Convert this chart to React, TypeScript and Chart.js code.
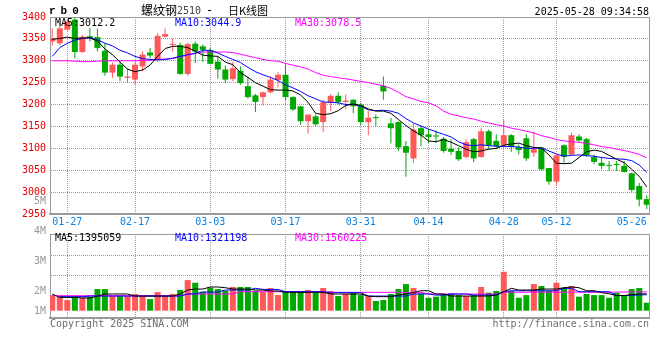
import React, { useEffect, useRef } from 'react';
import { Chart, registerables } from 'chart.js';

Chart.register(...registerables);

// ---------- data ----------
const dates = [
  '01-23','01-24','01-27','02-05','02-06','02-07','02-10','02-11','02-12','02-13',
  '02-14','02-17','02-18','02-19','02-20','02-21','02-24','02-25','02-26','02-27',
  '02-28','03-03','03-04','03-05','03-06','03-07','03-10','03-11','03-12','03-13',
  '03-14','03-17','03-18','03-19','03-20','03-21','03-24','03-25','03-26','03-27',
  '03-28','03-31','04-01','04-02','04-03','04-07','04-08','04-09','04-10','04-11',
  '04-14','04-15','04-16','04-17','04-18','04-21','04-22','04-23','04-24','04-25',
  '04-28','04-29','04-30','05-06','05-07','05-08','05-09','05-12','05-13','05-14',
  '05-15','05-16','05-19','05-20','05-21','05-22','05-23','05-26','05-27','05-28',
];

const opens = [
  3344,3340,3371,3394,3320,3356,3354,3323,3273,3291,
  3261,3257,3287,3319,3302,3355,3336,3336,3270,3339,
  3333,3324,3298,3280,3258,3277,3242,3221,3217,3228,
  3256,3268,3217,3196,3162,3173,3160,3204,3220,3206,
  3211,3200,3160,3171,3243,3157,3160,3105,3077,3146,
  3132,3129,3122,3099,3094,3080,3121,3080,3139,3117,
  3107,3130,3103,3123,3090,3102,3055,3024,3107,3086,
  3127,3121,3080,3067,3062,3064,3060,3043,3014,2984,
];
const highs = [
  3374,3389,3396,3399,3359,3375,3373,3340,3296,3298,
  3283,3298,3321,3329,3363,3374,3351,3342,3342,3344,
  3337,3329,3310,3289,3298,3287,3264,3224,3230,3264,
  3274,3292,3219,3197,3177,3177,3211,3224,3228,3223,
  3212,3204,3185,3177,3264,3170,3162,3117,3157,3151,
  3143,3141,3126,3121,3102,3121,3124,3147,3143,3132,
  3166,3132,3109,3132,3139,3103,3055,3086,3109,3136,
  3132,3124,3086,3080,3071,3071,3071,3045,3021,2992,
];
const lows = [
  3335,3336,3369,3306,3317,3344,3321,3266,3261,3253,
  3249,3245,3276,3306,3298,3353,3321,3268,3266,3295,
  3298,3292,3259,3249,3253,3245,3214,3183,3198,3226,
  3239,3209,3185,3154,3134,3151,3137,3185,3200,3189,
  3180,3153,3130,3151,3211,3111,3094,3035,3067,3105,
  3113,3113,3090,3085,3071,3077,3068,3079,3098,3098,
  3105,3092,3086,3071,3080,3048,3017,3014,3067,3083,
  3113,3080,3064,3052,3048,3048,3045,3001,2967,2961,
];
const closes = [
  3351,3374,3390,3320,3355,3352,3329,3273,3291,3264,
  3264,3291,3314,3312,3357,3361,3338,3270,3338,3321,
  3325,3293,3280,3257,3283,3249,3217,3206,3228,3257,
  3268,3217,3189,3162,3177,3155,3205,3220,3206,3209,
  3196,3160,3170,3169,3230,3146,3102,3090,3143,3130,
  3126,3127,3094,3092,3075,3114,3077,3139,3107,3105,
  3130,3103,3096,3077,3098,3052,3024,3084,3081,3130,
  3118,3084,3069,3060,3060,3062,3046,3005,2983,2971,
];

const ma5 = [
  3349,3351,3354,3351,3352,3352,3345,3327,3314,3297,
  3281,3275,3279,3290,3310,3328,3333,3333,3330,3322,
  3313,3311,3310,3297,3291,3273,3262,3250,3242,3234,
  3233,3233,3231,3222,3205,3180,3177,3179,3186,3198,
  3201,3198,3190,3185,3185,3180,3166,3152,3140,3130,
  3117,3115,3120,3114,3106,3098,3092,3094,3098,3100,
  3107,3110,3112,3106,3102,3101,3085,3066,3065,3066,
  3079,3092,3096,3093,3084,3075,3067,3052,3036,3012.2,
];
const ma10 = [
  3310,3330,3340,3347,3351,3353,3348,3340,3334,3324,
  3318,3310,3305,3303,3302,3303,3306,3310,3314,3317,
  3324,3324,3318,3310,3303,3296,3285,3275,3268,3262,
  3255,3245,3238,3230,3220,3213,3206,3205,3204,3200,
  3201,3196,3188,3186,3187,3185,3180,3168,3158,3151,
  3144,3138,3132,3126,3115,3108,3106,3108,3106,3105,
  3104,3104,3103,3100,3100,3101,3094,3087,3082,3084,
  3085,3083,3082,3079,3077,3076,3075,3072,3062,3044.9,
];
const ma30 = [
  3300,3300,3300,3299,3298,3298,3299,3300,3300,3300,
  3300,3300,3301,3301,3303,3304,3305,3309,3313,3317,
  3320,3320,3320,3320,3319,3315,3311,3307,3303,3300,
  3299,3294,3290,3286,3281,3273,3267,3264,3261,3259,
  3256,3253,3250,3246,3243,3237,3228,3218,3213,3207,
  3204,3197,3185,3178,3174,3170,3167,3162,3158,3154,
  3151,3146,3143,3139,3135,3129,3125,3120,3117,3115,
  3114,3111,3108,3104,3102,3098,3095,3091,3086,3078.5,
];

const volumes = [
  1290000,1210000,880000,1160000,1100000,1160000,1790000,1790000,1210000,1210000,
  1210000,1380000,1210000,960000,1540000,1210000,1380000,1710000,2530000,2310000,
  1570000,1900000,1790000,1650000,1960000,1960000,1960000,1650000,1540000,1870000,
  1290000,1570000,1570000,1570000,1710000,1490000,1870000,1630000,1210000,1380000,
  1490000,1290000,1210000,800000,880000,1380000,1790000,2200000,1870000,1430000,
  1070000,1160000,1380000,1430000,1290000,1210000,1290000,1960000,1490000,1630000,
  3220000,1630000,1070000,1290000,2200000,2040000,1630000,2310000,1900000,2040000,
  1160000,1380000,1290000,1290000,1070000,1490000,1210000,1790000,1870000,660000,
];
const volMa5 = [
  1380000,1100000,1100000,1100000,1050000,1050000,1200000,1380000,1380000,1380000,
  1380000,1210000,1210000,1210000,1210000,1210000,1210000,1380000,1710000,1790000,
  1790000,1960000,1960000,1900000,1790000,1790000,1790000,1710000,1710000,1630000,
  1630000,1520000,1520000,1520000,1520000,1520000,1520000,1380000,1380000,1380000,
  1380000,1380000,1210000,1160000,1160000,1160000,1300000,1380000,1500000,1650000,
  1650000,1380000,1380000,1210000,1210000,1210000,1210000,1210000,1210000,1300000,
  1570000,1850000,1710000,1710000,1710000,1790000,1790000,1790000,1900000,1960000,
  1900000,1650000,1650000,1490000,1400000,1250000,1250000,1330000,1380000,1395059,
];
const volMa10 = [
  null,1160000,1160000,1160000,1160000,1210000,1210000,1210000,1210000,1210000,
  1210000,1210000,1210000,1210000,1210000,1210000,1210000,1210000,1380000,1380000,
  1540000,1540000,1540000,1710000,1710000,1710000,1710000,1850000,1760000,1760000,
  1760000,1570000,1570000,1570000,1570000,1570000,1570000,1490000,1490000,1490000,
  1490000,1490000,1210000,1210000,1210000,1210000,1210000,1210000,1380000,1380000,
  1380000,1290000,1290000,1380000,1380000,1380000,1290000,1290000,1290000,1290000,
  1570000,1650000,1650000,1650000,1650000,1650000,1650000,1650000,1850000,1850000,
  1570000,1570000,1570000,1570000,1570000,1250000,1250000,1280000,1300000,1321198,
];
const volMa30 = [
  1240000,1240000,1240000,1240000,1240000,1240000,1240000,1240000,1240000,1240000,
  1240000,1240000,1240000,1240000,1240000,1240000,1240000,1240000,1380000,1380000,
  1380000,1380000,1380000,1380000,1380000,1570000,1570000,1570000,1570000,1570000,
  1570000,1570000,1570000,1570000,1570000,1570000,1570000,1520000,1520000,1520000,
  1520000,1520000,1520000,1520000,1520000,1520000,1520000,1520000,1520000,1520000,
  1380000,1380000,1380000,1380000,1380000,1380000,1380000,1380000,1380000,1380000,
  1530000,1530000,1530000,1530000,1530000,1530000,1530000,1530000,1530000,1530000,
  1530000,1530000,1530000,1530000,1530000,1540000,1540000,1550000,1550000,1560225,
];

const dateTicks = ['01-27','02-17','03-03','03-17','03-31','04-14','04-28','05-12','05-26'];
const PRICE_MIN = 2950;
const PRICE_MAX = 3400;
const PRICE_STEP = 50;
const VOL_MIN = -603000;
const VOL_MAX = 6340000;
const VOL_GRID = [4603000, 2950000];
const volAxisLabels = [
  { text: '5M', y: 201 },
  { text: '4M', y: 231 },
  { text: '3M', y: 261 },
  { text: '2M', y: 291 },
  { text: '1M', y: 311 },
];

// ---------- styles ----------
const UP = '#ff5858';
const DOWN = '#00a800';
const GRID = '#9c9c9c';
const FRAME = '#9a9a9a';
const DOTS = [1, 1];
const MONO = '"DejaVu Sans Mono", monospace';
const CJK = '"Noto Sans CJK SC", sans-serif';
const X_MIN = -0.3;
const X_MAX = dates.length - 1 + 0.3;

const tickIdx = dateTicks.map((d) => dates.indexOf(d));
const noGridIdx = dates.indexOf('05-26');
const candleColors = opens.map((o, i) => (closes[i] >= o ? UP : DOWN));

function xAxis(showLabels: boolean, height: number) {
  return {
    type: 'linear',
    offset: false,
    min: X_MIN,
    max: X_MAX,
    afterBuildTicks: (s: any) => {
      s.ticks = [...tickIdx, X_MAX].map((v) => ({ value: v }));
    },
    afterFit: (s: any) => {
      s.height = height;
    },
    ticks: {
      display: showLabels,
      autoSkip: false,
      maxRotation: 0,
      minRotation: 0,
      padding: 2,
      color: '#0a80e0',
      font: { family: MONO, size: 10 },
      callback: (v: number) => (Number.isInteger(v) ? dates[v] : ''),
    },
    grid: {
      offset: false,
      drawTicks: false,
      lineWidth: 1,
      color: (c: any) => {
        const v = c.tick ? c.tick.value : null;
        if (v === X_MAX) return FRAME;
        if (v === noGridIdx) return 'rgba(0,0,0,0)';
        return GRID;
      },
    },
    border: {
      color: FRAME,
      width: 2,
      dash: (c: any) => (c.tick && c.tick.value !== X_MAX ? DOTS : []),
    },
  };
}

function lineDs(values: (number | null)[], color: string) {
  return {
    type: 'line',
    data: values.map((y, x) => ({ x, y })),
    borderColor: color,
    borderWidth: 1,
    pointRadius: 0,
    tension: 0,
    fill: false,
    spanGaps: false,
    order: 0,
  };
}

const baseOptions = {
  responsive: false,
  animation: false,
  events: [],
  plugins: { legend: { display: false }, tooltip: { enabled: false } },
};

function priceConfig(): any {
  return {
    type: 'bar',
    data: {
      datasets: [
        lineDs(ma5, '#000000'),
        lineDs(ma10, '#0000ff'),
        lineDs(ma30, '#ff00ff'),
        {
          type: 'bar',
          data: opens.map((o, x) => ({ x, y: [o, closes[x]] })),
          backgroundColor: candleColors,
          barThickness: 6,
          grouped: false,
          minBarLength: 1,
          inflateAmount: 0,
          borderWidth: 0,
          order: 1,
        },
        {
          type: 'bar',
          data: lows.map((l, x) => ({ x, y: [l, highs[x]] })),
          backgroundColor: candleColors,
          barThickness: 1,
          grouped: false,
          inflateAmount: 0,
          borderWidth: 0,
          order: 2,
        },
      ],
    },
    options: {
      ...baseOptions,
      layout: { padding: { top: 17, right: 11, left: 0, bottom: 0 } },
      scales: {
        x: xAxis(true, 18),
        y: {
          min: PRICE_MIN,
          max: PRICE_MAX,
          afterFit: (s: any) => {
            s.width = 50;
          },
          ticks: {
            stepSize: PRICE_STEP,
            color: '#e60000',
            font: { family: MONO, size: 10 },
            padding: 4,
            callback: (v: number) => String(v),
          },
          grid: {
            drawTicks: false,
            color: (c: any) => (c.tick && c.tick.value === PRICE_MAX ? FRAME : GRID),
          },
          border: {
            color: FRAME,
            width: 1,
            dash: (c: any) => (c.tick && c.tick.value !== PRICE_MAX ? DOTS : []),
          },
        },
      },
    },
  };
}

function volConfig(): any {
  return {
    type: 'bar',
    data: {
      datasets: [
        lineDs(volMa5, '#000000'),
        lineDs(volMa10, '#0000ff'),
        lineDs(volMa30, '#ff00ff'),
        {
          type: 'bar',
          data: volumes.map((y, x) => ({ x, y })),
          backgroundColor: candleColors,
          barThickness: 6,
          grouped: false,
          inflateAmount: 0,
          borderWidth: 0,
          order: 1,
        },
      ],
    },
    options: {
      ...baseOptions,
      layout: { padding: { top: 8, right: 11, left: 0, bottom: 0 } },
      scales: {
        x: xAxis(false, 42),
        y: {
          min: VOL_MIN,
          max: VOL_MAX,
          afterBuildTicks: (s: any) => {
            s.ticks = [...VOL_GRID, VOL_MAX].map((v) => ({ value: v }));
          },
          afterFit: (s: any) => {
            s.width = 50;
          },
          ticks: { display: false },
          grid: {
            drawTicks: false,
            color: (c: any) => (c.tick && c.tick.value === VOL_MAX ? FRAME : GRID),
          },
          border: {
            color: FRAME,
            width: 1,
            dash: (c: any) => (c.tick && c.tick.value !== VOL_MAX ? DOTS : []),
          },
        },
      },
    },
  };
}

type TxtProps = {
  x?: number;
  right?: number;
  cy: number;
  color?: string;
  size?: number;
  family?: string;
  bold?: boolean;
  spacing?: number;
  children: React.ReactNode;
};

function Txt({ x, right, cy, color = '#000', size = 10, family = MONO, bold, spacing, children }: TxtProps) {
  return (
    <span
      style={{
        position: 'absolute',
        left: x,
        right: right,
        top: cy - 7,
        height: 14,
        lineHeight: '14px',
        fontSize: size,
        fontFamily: family,
        fontWeight: bold ? 'bold' : 'normal',
        letterSpacing: spacing,
        color,
        whiteSpace: 'pre',
      }}
    >
      {children}
    </span>
  );
}

export default function App() {
  const priceRef = useRef<HTMLCanvasElement>(null);
  const volRef = useRef<HTMLCanvasElement>(null);

  useEffect(() => {
    const c1 = new Chart(priceRef.current as HTMLCanvasElement, priceConfig());
    const c2 = new Chart(volRef.current as HTMLCanvasElement, volConfig());
    return () => {
      c1.destroy();
      c2.destroy();
    };
  }, []);

  return (
    <div
      style={{
        position: 'fixed',
        left: 0,
        top: 0,
        width: 660,
        height: 360,
        background: '#fff',
        overflow: 'hidden',
      }}
    >
      <canvas
        ref={priceRef}
        width={660}
        height={232}
        style={{ position: 'absolute', left: 0, top: 0, width: 660, height: 232 }}
      />
      <canvas
        ref={volRef}
        width={660}
        height={134}
        style={{ position: 'absolute', left: 0, top: 226, width: 660, height: 134 }}
      />

      <Txt x={49} cy={11} size={11} family={'"Liberation Mono", monospace'} bold spacing={5}>rb0</Txt>
      <Txt x={141} cy={10} size={12} family={CJK}>螺纹钢</Txt>
      <Txt x={177} cy={11} size={10} color="#444">2510</Txt>
      <Txt x={206} cy={10} size={12}>-</Txt>
      <Txt x={228} cy={10} size={11} family={CJK}>日K线图</Txt>
      <Txt right={11} cy={12}>2025-05-28 09:34:58</Txt>

      <Txt x={55} cy={23}>MA5:3012.2</Txt>
      <Txt x={175} cy={23} color="#0000ff">MA10:3044.9</Txt>
      <Txt x={295} cy={23} color="#ff00ff">MA30:3078.5</Txt>

      <Txt x={55} cy={238}>MA5:1395059</Txt>
      <Txt x={175} cy={238} color="#0000ff">MA10:1321198</Txt>
      <Txt x={295} cy={238} color="#ff00ff">MA30:1560225</Txt>

      {volAxisLabels.map((l) => (
        <Txt key={l.text} right={614} cy={l.y} color="#999">
          {l.text}
        </Txt>
      ))}

      <Txt x={50} cy={324} color="#6e6e6e">Copyright 2025 SINA.COM</Txt>
      <Txt right={11} cy={324} color="#6e6e6e">http://finance.sina.com.cn</Txt>
    </div>
  );
}
